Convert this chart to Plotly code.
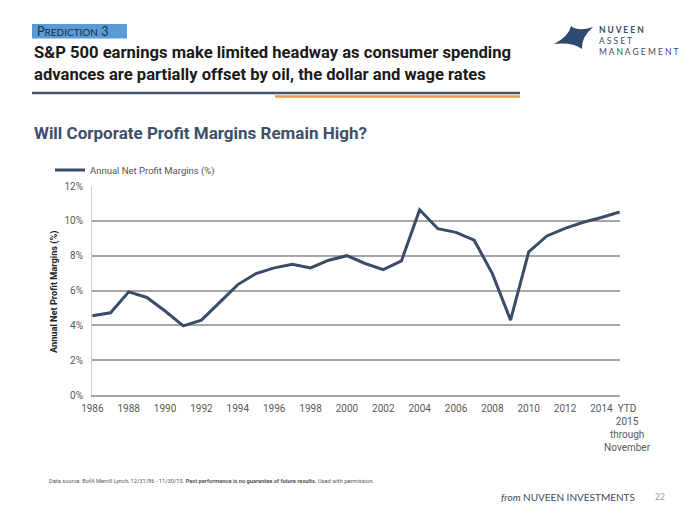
import plotly.graph_objects as go

years = [str(y) for y in range(1986, 2015)] + ["YTD 2015"]
margins = [4.55, 4.72, 5.92, 5.60, 4.82, 3.97, 4.30, 5.31, 6.34, 6.97,
           7.30, 7.51, 7.30, 7.74, 8.00, 7.55, 7.20, 7.70, 10.64, 9.55,
           9.34, 8.89, 6.97, 4.30, 8.22, 9.13, 9.57, 9.92, 10.19, 10.51]
NB = "\u00a0" * 6
tick_vals = [str(y) for y in range(1986, 2015, 2)] + ["YTD 2015"]
tick_text = [str(y) for y in range(1986, 2015, 2)] + [
    NB + "YTD<br>" + NB + "2015<br>" + NB + "through<br>" + NB + "November"]
y_ticks = [0, 2, 4, 6, 8, 10, 12]
y_ticktext = ["0%", "2%", "4%", "6%", "8%", "10%", "12%"]

W, H = 700, 525
L, R, T, B = 92, 620, 186, 395
NARROW = "Roboto, sans-serif"

def px(x):
    return (x - L) / (R - L)

def py(y):
    return (B - y) / (B - T)

fig = go.Figure()
fig.add_trace(go.Scatter(
    x=years, y=margins, mode="lines",
    name="Annual Net Profit Margins (%)",
    line=dict(color="#3a4c66", width=3),
    showlegend=True,
))

pts = [(554, 44), (569, 36), (571, 26), (578.5, 32), (593, 27), (581, 37.5),
       (582, 49), (572, 42), (554, 44)]
star = "M {} {} Q {} {} {} {} Q {} {} {} {} Q {} {} {} {} Q {} {} {} {} Z".format(
    *[v for p in pts for v in (px(p[0]), py(p[1]))])

shapes = [
    dict(type="rect", xref="paper", yref="paper", x0=px(32), x1=px(127), y0=py(38.5), y1=py(24),
         fillcolor="#5b9bd5", line=dict(width=0), layer="below"),
    dict(type="line", xref="paper", yref="paper", x0=px(32), x1=px(520), y0=py(93), y1=py(93),
         line=dict(color="#44546a", width=2.5)),
    dict(type="line", xref="paper", yref="paper", x0=px(275), x1=px(520), y0=py(96.5), y1=py(96.5),
         line=dict(color="#e39a4c", width=2.5)),
    dict(type="path", xref="paper", yref="paper", path=star,
         fillcolor="#2f4a70", line=dict(width=0)),
]

def note(text, x, y, **kw):
    d = dict(text=text, x=px(x), y=py(y), xref="paper", yref="paper", showarrow=False)
    d.update(kw)
    return d

annotations = [
    note("P<span style='font-size:10px'>REDICTION</span> 3", 35, 31.5, xanchor="left", yanchor="middle",
         font=dict(family="Lato, sans-serif", size=12.5, color="#1f2d40")),
    note("<b>S&P 500 earnings make limited headway as consumer spending<br>advances are partially offset by oil, the dollar and wage rates</b>",
         32, 41.5, xanchor="left", yanchor="top", align="left",
         font=dict(family=NARROW, size=16.6, color="#1a1a1a")),
    note("<b>Will Corporate Profit Margins Remain High?</b>", 32, 133,
         xanchor="left", yanchor="middle",
         font=dict(family=NARROW, size=17, color="#3e4f66")),
    note("<b>Annual Net Profit Margins (%)</b>", 54, 292, textangle=-90,
         xanchor="center", yanchor="middle",
         font=dict(family=NARROW, size=9.2, color="#222222")),
    note("Data source: BofA Merrill Lynch, 12/31/86 - 11/30/15. <b>Past performance is no guarantee of future results.</b> Used with permission.",
         47, 481, xanchor="left", yanchor="middle",
         font=dict(family=NARROW, size=5.7, color="#555555")),
    note("<i>from</i> NUVEEN INVESTMENTS", 637, 497, xanchor="right", yanchor="middle",
         font=dict(family="Lato, sans-serif", size=10, color="#3a4c66")),
    note("22", 660, 497, xanchor="center", yanchor="middle",
         font=dict(family="Lato, sans-serif", size=8.5, color="#999999")),
    note("<b>N U V E E N</b><br>A S S E T<br>M A N A G E M E N T", 597, 23,
         xanchor="left", yanchor="top", align="left",
         font=dict(family="Lato, sans-serif", size=8.5, color="#3a4c66")),
]

fig.update_layout(
    width=W, height=H,
    margin=dict(l=L, r=W - R, t=T, b=H - B, pad=0),
    paper_bgcolor="white", plot_bgcolor="white",
    shapes=shapes, annotations=annotations,
    legend=dict(x=px(50), y=py(170), xanchor="left", yanchor="middle", orientation="h",
                itemwidth=30, font=dict(family=NARROW, size=9.5, color="#555555"),
                bgcolor="rgba(0,0,0,0)"),
    xaxis=dict(type="category", categoryorder="array", categoryarray=years,
               tickmode="array", tickvals=tick_vals, ticktext=tick_text,
               showgrid=False, showline=True, linecolor="#a6a6a6", linewidth=1.5,
               ticks="", ticklabelstandoff=3,
               tickfont=dict(family=NARROW, size=10, color="#595959"),
               range=[-0.02, len(years) - 1 + 0.02], tickangle=0),
    yaxis=dict(range=[0, 12], tickmode="array", tickvals=y_ticks, ticktext=y_ticktext,
               showgrid=True, gridcolor="#a6a6a6", gridwidth=1.5,
               showline=True, linecolor="#d0d0d0", linewidth=1, zeroline=False,
               ticks="", ticklabelstandoff=6,
               tickfont=dict(family=NARROW, size=10, color="#595959")),
)

fig.write_html("out.html", config={"displayModeBar": False},
               post_script="document.body.style.margin='0';document.body.style.padding='0';")
